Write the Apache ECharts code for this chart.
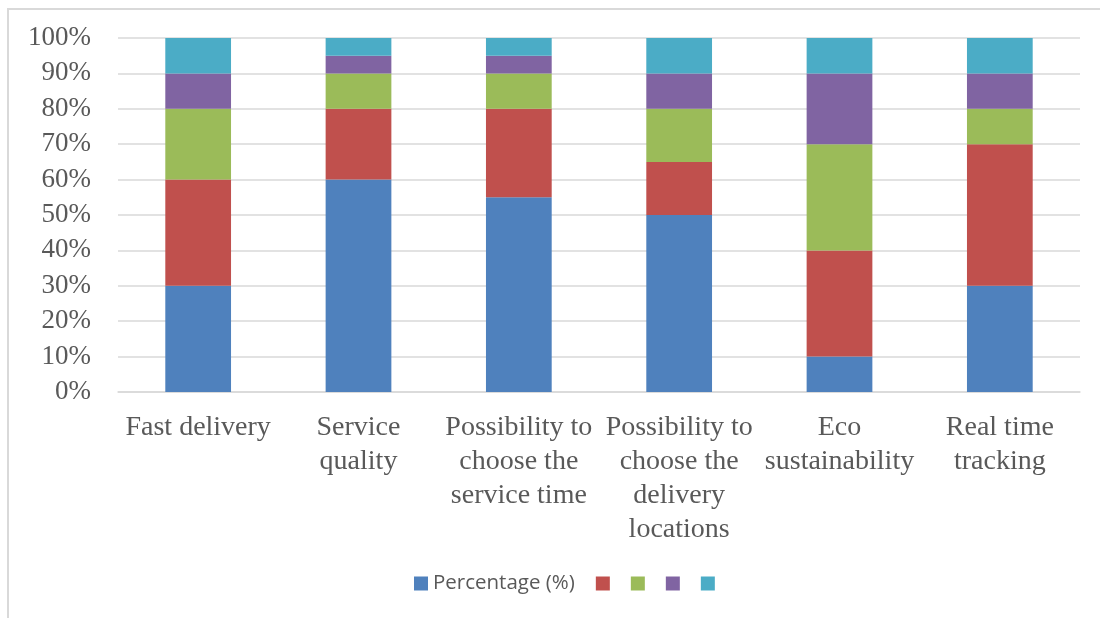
<!DOCTYPE html>
<html lang="en">
<head>
    <meta http-equiv="Content-Type" content="text/html; charset=UTF-8">
    <title>Stacked percentage chart</title>
    <script type="text/javascript" src="https://cdn.jsdelivr.net/npm/echarts@6/dist/echarts.min.js"></script>
</head>

<body style="margin: 0; width: 1100px; height: 618px; background: #fff;">
<div id="frame" style="position: absolute; left: 7px; top: 8px; width: 1100px; height: 620px; border-top: 2px solid #d9d9d9; border-left: 2px solid #d9d9d9;"></div>
<div id="main" style="position: absolute; left: 0; top: 0; width: 1100px; height: 618px;"></div>
<script type="text/javascript">
    // categories and stacked shares (percent)
    var categories = ['Fast delivery', 'Service\nquality', 'Possibility to\nchoose the\nservice time',
        'Possibility to\nchoose the\ndelivery\nlocations', 'Eco\nsustainability', 'Real time\ntracking'];
    var percentage = [30, 60, 55, 50, 10, 30];
    var part2 = [30, 20, 25, 15, 30, 40];
    var part3 = [20, 10, 10, 15, 30, 10];
    var part4 = [10, 5, 5, 10, 20, 10];
    var part5 = [10, 5, 5, 10, 10, 10];
    var yTicks = ['0%', '10%', '20%', '30%', '40%', '50%', '60%', '70%', '80%', '90%', '100%'];

    var seriesNames = ['Percentage (%)', 's2', 's3', 's4', 's5'];
    var seriesData = [percentage, part2, part3, part4, part5];
    var colors = ['#4f81bd', '#c0504d', '#9bbb59', '#8064a2', '#4bacc6'];

    var myChart = echarts.init(document.getElementById('main'));

    var series = seriesData.map(function (d, i) {
        return {
            name: seriesNames[i],
            type: 'bar',
            stack: 'total',
            barCategoryGap: '59%',
            itemStyle: { color: colors[i] },
            data: d
        };
    });

    myChart.setOption({
        animation: false,
        grid: {
            left: 118,
            right: 20,
            top: 38,
            bottom: 226,
            containLabel: false
        },
        legend: {
            data: seriesNames,
            bottom: 19,
            left: 409,
            icon: 'rect',
            itemWidth: 14,
            itemHeight: 14,
            itemGap: 21,
            formatter: function (name) {
                return name === 'Percentage (%)' ? name : '';
            },
            textStyle: {
                fontFamily: 'Open Sans',
                fontSize: 20.5,
                color: '#595959'
            }
        },
        xAxis: {
            type: 'category',
            data: categories,
            axisTick: { show: false },
            axisLine: { lineStyle: { color: '#d9d9d9', width: 1.5 } },
            axisLabel: {
                interval: 0,
                margin: 19,
                fontFamily: 'Liberation Serif',
                fontSize: 28,
                lineHeight: 34,
                color: '#595959'
            }
        },
        yAxis: {
            type: 'value',
            min: 0,
            max: 100,
            interval: 10,
            axisLine: { show: false },
            axisTick: { show: false },
            splitLine: { lineStyle: { color: '#d9d9d9', width: 1.5 } },
            axisLabel: {
                margin: 27,
                fontFamily: 'Liberation Serif',
                fontSize: 27,
                color: '#595959',
                formatter: function (v) {
                    return yTicks[Math.round(v / 10)];
                }
            }
        },
        series: series
    });
</script>
</body>
</html>
